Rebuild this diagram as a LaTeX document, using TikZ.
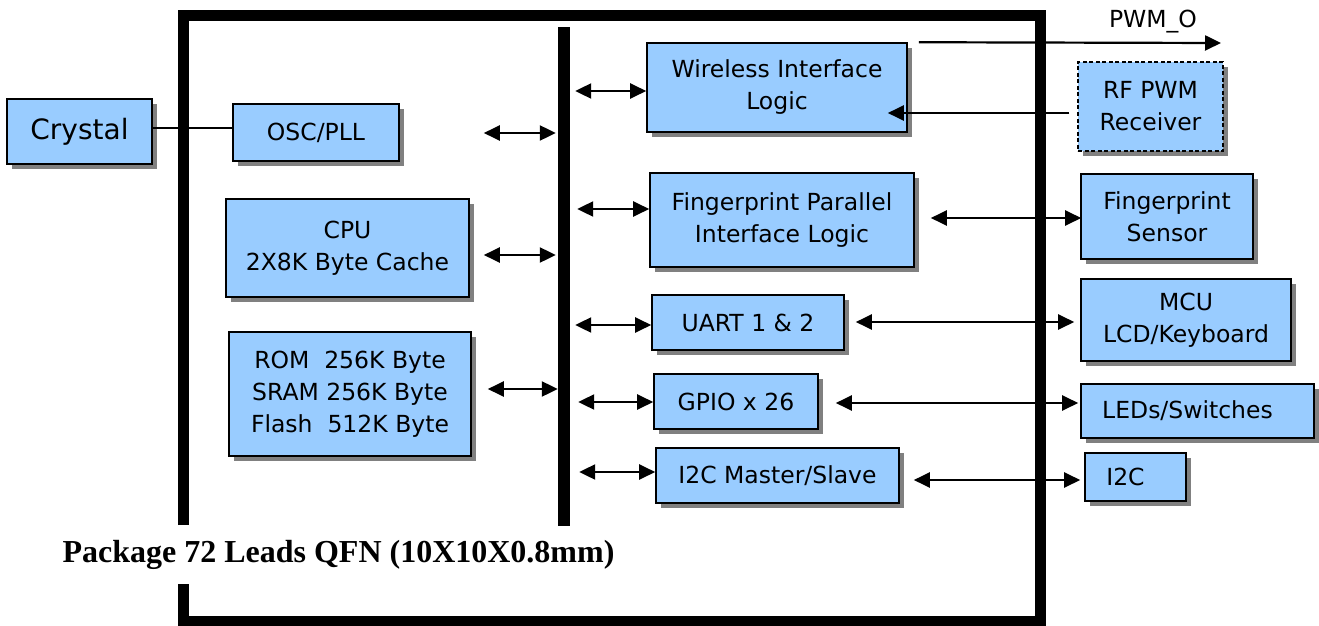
\documentclass[tikz,border=0pt]{standalone}
\usepackage{fontspec}
\setmainfont{DejaVu Sans}
\newfontfamily\titlefont{Liberation Serif}
\usetikzlibrary{arrows.meta,shadows}
\definecolor{boxblue}{HTML}{99CCFF}
\definecolor{shadowgray}{HTML}{808080}
\begin{document}
\begin{tikzpicture}[x=1pt,y=-1pt,
  box/.style={draw=black, line width=1.6pt, fill=boxblue, align=center, inner sep=0pt,
    font=\fontsize{23.5}{32}\selectfont,
    general shadow={shadow xshift=5pt, shadow yshift=-5pt, fill=shadowgray}},
  bi/.style={{Triangle[length=16pt,width=15pt]}-{Triangle[length=16pt,width=15pt]}, line width=2.2pt},
  uni/.style={-{Triangle[length=16pt,width=15pt]}, line width=2.2pt},
  wire/.style={line width=1.6pt},
  chip/.style={line width=11pt, line join=miter},
  busbar/.style={fill=black, inner sep=0pt}
  ]
\useasboundingbox (0,0) rectangle (1319,626);

% package outline
\node[font=\titlefont\bfseries\fontsize{32}{34}\selectfont] (title) at (338.5,555) {Package 72 Leads QFN (10X10X0.8mm)};
\draw[chip] (183.5,525) -- (183.5,15.5) -- (1040.5,15.5) -- (1040.5,621) -- (183.5,621) -- (183.5,584);

% bus
\node[busbar, minimum width=12pt, minimum height=499pt] (bus) at (564,276.5) {};

% left blocks
\node[box, minimum width=145pt, minimum height=65pt, font=\fontsize{28}{32}\selectfont] (crystal) at (79.5,131.5) {Crystal};
\node[box, minimum width=166pt, minimum height=57pt] (osc) at (316,132.5) {OSC/PLL};
\node[box, minimum width=243pt, minimum height=98pt] (cpu) at (347.5,248) {CPU\\2X8K Byte Cache};
\node[box, minimum width=242pt, minimum height=124pt] (mem) at (350,394) {ROM\ \ 256K Byte\\SRAM 256K Byte\\Flash\ \ 512K Byte};

% right blocks inside
\node[box, minimum width=260pt, minimum height=89pt] (wl) at (777,87.5) {Wireless Interface\\Logic};
\node[box, minimum width=264pt, minimum height=94pt] (fpi) at (782,220) {Fingerprint Parallel\\Interface Logic};
\node[box, minimum width=192pt, minimum height=55pt] (uart) at (748,322.5) {UART 1 \& 2};
\node[box, minimum width=164pt, minimum height=55pt] (gpio) at (736,401.5) {GPIO x 26};
\node[box, minimum width=243pt, minimum height=55pt] (i2cm) at (777.5,475.5) {I2C Master/Slave};

% external blocks
\node[box, line width=1.3pt, dash pattern=on 4pt off 2.5pt, minimum width=145pt, minimum height=89pt] (rf) at (1150.5,106.5) {RF PWM\\Receiver};
\node[box, minimum width=172pt, minimum height=85pt] (fps) at (1167,216.5) {Fingerprint\\Sensor};
\node[box, minimum width=210pt, minimum height=82pt] (mcu) at (1186,320) {MCU\\LCD/Keyboard};
\node[box, minimum width=233pt, minimum height=54pt] (leds) at (1197.5,411) {\raisebox{-2pt}{LEDs/Switches}\hspace*{20pt}};
\node[box, minimum width=101pt, minimum height=48pt] (i2c) at (1135.5,477) {\raisebox{-5pt}{I2C}\hspace*{20pt}};

% PWM output
\node[font=\fontsize{23.5}{32}\selectfont] (pwmo) at (1153,22) {PWM\_O};
\coordinate (pwmend) at (1221,43);
\draw[uni, shorten <=11pt] (wl.north east) -- (pwmend);
\draw[uni, shorten <=8pt, shorten >=-20pt] (rf.west |- 0,113) -- (wl.east |- 0,113);

% crystal line
\draw[wire] (crystal.east |- 0,128) -- (osc.west |- 0,128);

% left bus arrows
\draw[bi, shorten <=84pt, shorten >=2pt] (osc.east |- 0,133) -- (bus.west |- 0,133);
\draw[bi, shorten <=14pt, shorten >=2pt] (cpu.east |- 0,255) -- (bus.west |- 0,255);
\draw[bi, shorten <=16pt] (mem.east |- 0,389) -- (bus.west |- 0,389);

% right bus arrows
\draw[bi, shorten <=5pt] (bus.east |- 0,91) -- (wl.west |- 0,91);
\draw[bi, shorten <=7pt] (bus.east |- 0,209) -- (fpi.west |- 0,209);
\draw[bi, shorten <=5pt] (bus.east |- 0,325) -- (uart.west |- 0,325);
\draw[bi, shorten <=8pt] (bus.east |- 0,402) -- (gpio.west |- 0,402);
\draw[bi, shorten <=9pt] (bus.east |- 0,472) -- (i2cm.west |- 0,472);

% external links
\draw[bi, shorten <=16pt, shorten >=-1pt] (fpi.east |- 0,218) -- (fps.west |- 0,218);
\draw[bi, shorten <=11pt, shorten >=6pt] (uart.east |- 0,322) -- (mcu.west |- 0,322);
\draw[bi, shorten <=17pt, shorten >=2pt] (gpio.east |- 0,403) -- (leds.west |- 0,403);
\draw[bi, shorten <=14pt, shorten >=4pt] (i2cm.east |- 0,480) -- (i2c.west |- 0,480);
\end{tikzpicture}
\end{document}
